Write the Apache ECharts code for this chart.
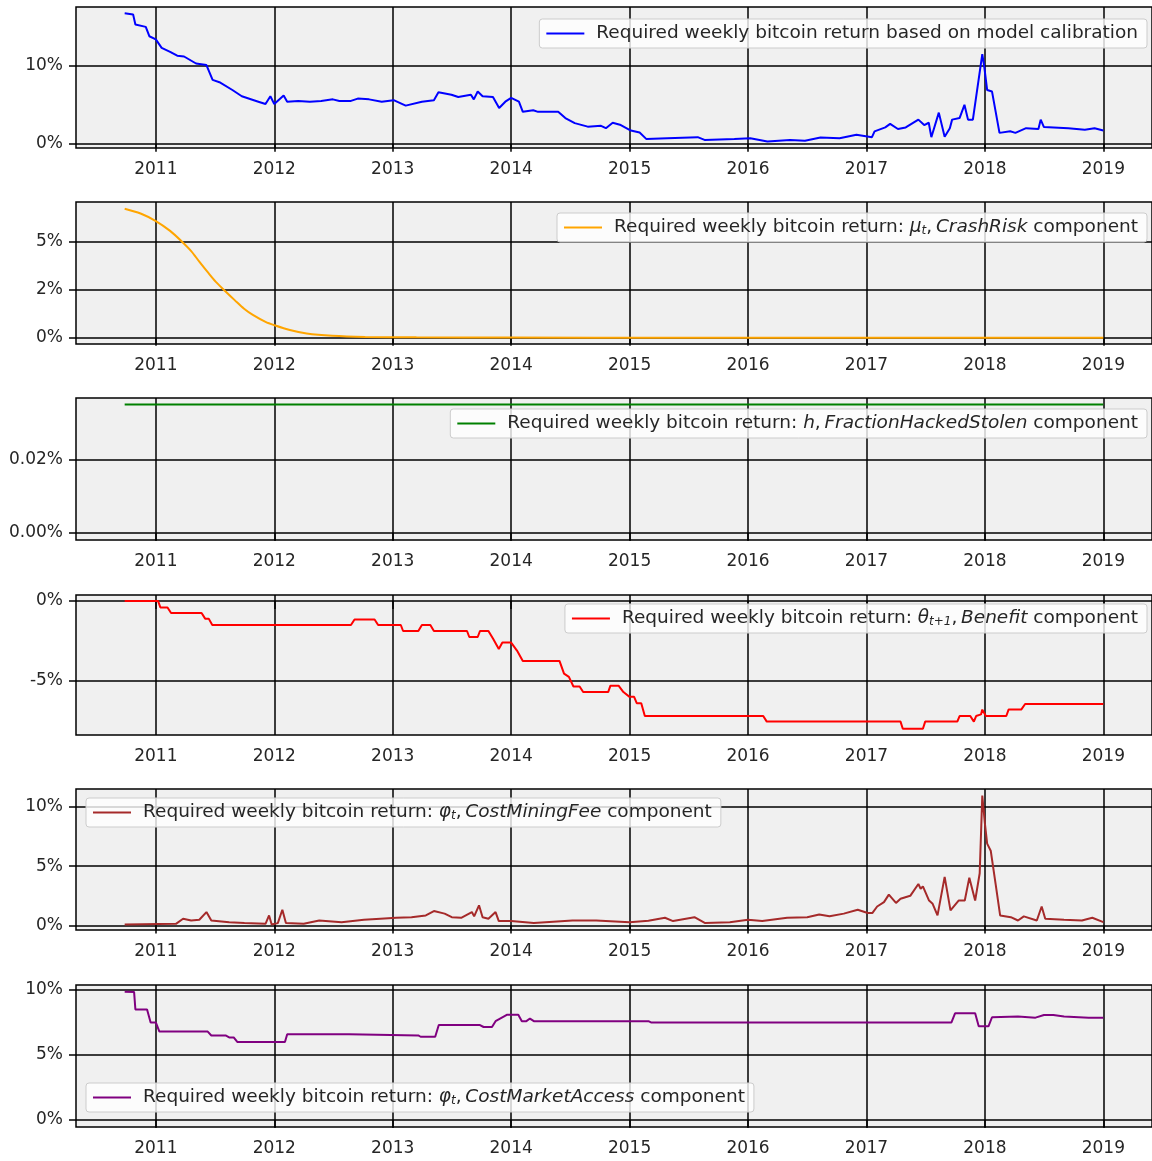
<!DOCTYPE html>
<html>
<head>
<meta charset="utf-8">
<title>Required weekly bitcoin return components</title>
<script src="https://cdn.jsdelivr.net/npm/echarts@6/dist/echarts.min.js"></script>
<style>
  html, body { margin: 0; padding: 0; background: #ffffff; }
  #chart { width: 1152px; height: 1161px; }
</style>
</head>
<body>
<div id="chart"></div>
<script>
// ---------- data (weekly required returns, in percent) ----------
const yearTicks = [2011, 2012, 2013, 2014, 2015, 2016, 2017, 2018, 2019];
const xRange = ['2010-04-30', '2019-05-31'];

const seriesNames = [
  'Required weekly bitcoin return based on model calibration',
  'Required weekly bitcoin return: μt, CrashRisk component',
  'Required weekly bitcoin return: h, FractionHackedStolen component',
  'Required weekly bitcoin return: θt+1, Benefit component',
  'Required weekly bitcoin return: φt, CostMiningFee component',
  'Required weekly bitcoin return: φt, CostMarketAccess component'
];

const legendLabels = [
  'Required weekly bitcoin return based on model calibration',
  'Required weekly bitcoin return: {i|μ}{sub|t},\u2009{i|CrashRisk} component',
  'Required weekly bitcoin return: {i|h},\u2009{i|FractionHackedStolen} component',
  'Required weekly bitcoin return: {i|θ}{sub|t+1},\u2009{i|Benefit} component',
  'Required weekly bitcoin return: {i|φ}{sub|t},\u2009{i|CostMiningFee} component',
  'Required weekly bitcoin return: {i|φ}{sub|t},\u2009{i|CostMarketAccess} component'
];

const totalReturn = [
  ['2010-09-27', 16.75], ['2010-10-23', 16.6], ['2010-10-30', 15.3], ['2010-12-01', 15.0],
  ['2010-12-12', 13.8], ['2011-01-01', 13.4], ['2011-01-19', 12.3], ['2011-02-14', 11.8],
  ['2011-03-08', 11.3], ['2011-03-29', 11.2], ['2011-05-05', 10.3], ['2011-06-06', 10.1],
  ['2011-06-25', 8.2], ['2011-07-16', 7.9], ['2011-08-25', 6.9], ['2011-09-23', 6.1],
  ['2011-11-13', 5.4], ['2011-12-05', 5.1], ['2011-12-20', 6.1], ['2012-01-01', 5.1],
  ['2012-01-30', 6.2], ['2012-02-10', 5.4], ['2012-03-15', 5.5], ['2012-04-20', 5.4],
  ['2012-05-25', 5.5], ['2012-06-30', 5.7], ['2012-07-20', 5.5], ['2012-08-25', 5.5],
  ['2012-09-15', 5.8], ['2012-10-20', 5.7], ['2012-11-28', 5.4], ['2013-01-04', 5.6],
  ['2013-02-10', 4.9], ['2013-04-01', 5.4], ['2013-05-08', 5.6], ['2013-05-22', 6.6],
  ['2013-07-01', 6.3], ['2013-07-22', 6.0], ['2013-08-30', 6.3], ['2013-09-08', 5.7],
  ['2013-09-20', 6.7], ['2013-10-05', 6.1], ['2013-11-06', 6.0], ['2013-11-25', 4.6],
  ['2013-12-14', 5.4], ['2014-01-01', 5.9], ['2014-01-25', 5.4], ['2014-02-06', 4.1],
  ['2014-03-10', 4.3], ['2014-03-25', 4.1], ['2014-05-26', 4.1], ['2014-06-17', 3.3],
  ['2014-07-16', 2.65], ['2014-08-25', 2.2], ['2014-10-05', 2.3], ['2014-10-20', 2.0],
  ['2014-11-10', 2.7], ['2014-12-05', 2.4], ['2015-01-05', 1.7], ['2015-02-01', 1.45],
  ['2015-02-22', 0.6], ['2015-04-27', 0.7], ['2015-07-30', 0.85], ['2015-08-20', 0.5],
  ['2015-11-20', 0.6], ['2016-01-08', 0.7], ['2016-03-01', 0.3], ['2016-05-10', 0.5],
  ['2016-06-25', 0.4], ['2016-08-12', 0.8], ['2016-10-10', 0.7], ['2016-12-01', 1.15],
  ['2017-01-18', 0.85], ['2017-01-26', 1.6], ['2017-02-28', 2.1], ['2017-03-15', 2.55],
  ['2017-04-08', 1.9], ['2017-05-02', 2.1], ['2017-06-10', 3.1], ['2017-06-28', 2.4],
  ['2017-07-12', 2.7], ['2017-07-20', 0.85], ['2017-08-12', 4.0], ['2017-08-30', 0.9],
  ['2017-09-15', 2.0], ['2017-09-22', 3.1], ['2017-10-15', 3.3], ['2017-10-30', 5.0],
  ['2017-11-10', 3.1], ['2017-11-25', 3.1], ['2017-12-24', 11.5], ['2017-12-30', 9.9],
  ['2018-01-08', 6.9], ['2018-01-23', 6.7], ['2018-02-15', 1.4], ['2018-03-20', 1.6],
  ['2018-04-05', 1.4], ['2018-05-08', 2.0], ['2018-06-15', 1.9], ['2018-06-22', 3.1],
  ['2018-07-02', 2.15], ['2018-09-15', 2.0], ['2018-11-05', 1.8], ['2018-12-05', 2.0],
  ['2019-01-01', 1.7]
];

const crashRisk = [
  ['2010-09-27', 6.70], ['2010-11-15', 6.45], ['2011-01-01', 6.06], ['2011-02-14', 5.55],
  ['2011-03-22', 5.0], ['2011-04-20', 4.5], ['2011-05-15', 3.95], ['2011-06-10', 3.4],
  ['2011-07-05', 2.9], ['2011-08-04', 2.4], ['2011-09-01', 1.95], ['2011-09-30', 1.5],
  ['2011-10-27', 1.18], ['2011-12-05', 0.82], ['2012-01-01', 0.65], ['2012-02-18', 0.40],
  ['2012-04-10', 0.22], ['2012-06-28', 0.10], ['2012-10-08', 0.04], ['2013-03-15', 0.015],
  ['2014-01-01', 0.003], ['2015-06-01', 0.0], ['2019-01-01', 0.0]
];

const hackedStolen = [
  ['2010-09-27', 0.0352], ['2012-01-01', 0.0352], ['2014-01-01', 0.0352],
  ['2016-01-01', 0.0352], ['2018-01-01', 0.0352], ['2019-01-01', 0.0352]
];

const benefit = [
  ['2010-09-27', 0], ['2011-01-08', 0], ['2011-01-15', -0.4], ['2011-02-06', -0.4],
  ['2011-02-17', -0.75], ['2011-05-22', -0.75], ['2011-06-02', -1.1], ['2011-06-13', -1.1],
  ['2011-06-24', -1.5], ['2012-08-25', -1.5], ['2012-09-05', -1.15], ['2012-11-06', -1.15],
  ['2012-11-17', -1.5], ['2013-01-26', -1.5], ['2013-02-02', -1.875], ['2013-03-21', -1.875],
  ['2013-04-01', -1.5], ['2013-04-27', -1.5], ['2013-05-08', -1.875], ['2013-08-18', -1.875],
  ['2013-08-25', -2.25], ['2013-09-20', -2.25], ['2013-09-27', -1.875], ['2013-10-23', -1.875],
  ['2013-11-06', -2.35], ['2013-11-24', -3.0], ['2013-12-05', -2.6], ['2014-01-01', -2.6],
  ['2014-01-19', -3.1], ['2014-02-06', -3.75], ['2014-05-30', -3.75], ['2014-06-13', -4.55],
  ['2014-06-28', -4.75], ['2014-07-12', -5.35], ['2014-07-31', -5.35], ['2014-08-11', -5.7],
  ['2014-10-27', -5.7], ['2014-11-03', -5.3], ['2014-11-28', -5.3], ['2014-12-13', -5.7],
  ['2015-01-01', -6.0], ['2015-01-15', -6.0], ['2015-01-23', -6.4], ['2015-02-06', -6.4],
  ['2015-02-17', -7.2], ['2016-02-17', -7.2], ['2016-02-28', -7.55], ['2017-04-16', -7.55],
  ['2017-04-23', -8.0], ['2017-06-24', -8.0], ['2017-07-01', -7.55], ['2017-10-08', -7.55],
  ['2017-10-15', -7.2], ['2017-11-17', -7.2], ['2017-11-28', -7.55], ['2017-12-05', -7.2],
  ['2017-12-20', -7.1], ['2017-12-24', -6.8], ['2018-01-04', -7.2], ['2018-03-08', -7.2],
  ['2018-03-15', -6.8], ['2018-04-23', -6.8], ['2018-05-05', -6.45], ['2019-01-01', -6.45]
];

const miningFee = [
  ['2010-09-27', 0.08], ['2011-03-04', 0.14], ['2011-03-26', 0.57], ['2011-04-20', 0.42],
  ['2011-05-15', 0.48], ['2011-06-06', 1.13], ['2011-06-21', 0.42], ['2011-08-15', 0.28],
  ['2011-10-01', 0.2], ['2011-12-05', 0.14], ['2011-12-16', 0.85], ['2011-12-24', 0.08],
  ['2012-01-12', 0.2], ['2012-01-26', 1.33], ['2012-02-06', 0.2], ['2012-04-01', 0.14],
  ['2012-05-19', 0.42], ['2012-07-27', 0.28], ['2012-10-04', 0.48], ['2012-11-24', 0.57],
  ['2013-01-12', 0.65], ['2013-02-28', 0.7], ['2013-04-13', 0.85], ['2013-05-08', 1.22],
  ['2013-06-10', 1.0], ['2013-07-02', 0.7], ['2013-07-31', 0.65], ['2013-09-02', 1.13],
  ['2013-09-09', 0.77], ['2013-09-24', 1.7], ['2013-10-05', 0.7], ['2013-10-23', 0.57],
  ['2013-11-14', 1.13], ['2013-11-24', 0.37], ['2014-01-01', 0.37], ['2014-03-12', 0.2],
  ['2014-07-09', 0.42], ['2014-09-20', 0.42], ['2015-01-01', 0.28], ['2015-02-28', 0.4],
  ['2015-04-20', 0.65], ['2015-05-15', 0.37], ['2015-07-20', 0.7], ['2015-08-22', 0.2],
  ['2015-11-06', 0.28], ['2016-01-01', 0.48], ['2016-02-14', 0.37], ['2016-05-01', 0.65],
  ['2016-07-02', 0.7], ['2016-08-08', 0.93], ['2016-09-09', 0.77], ['2016-10-23', 1.0],
  ['2016-12-05', 1.33], ['2017-01-05', 1.05], ['2017-01-19', 1.05], ['2017-02-03', 1.6],
  ['2017-02-24', 1.97], ['2017-03-11', 2.6], ['2017-04-02', 1.9], ['2017-04-16', 2.25],
  ['2017-05-16', 2.5], ['2017-06-10', 3.5], ['2017-06-17', 3.1], ['2017-06-24', 3.3],
  ['2017-07-13', 2.1], ['2017-07-24', 1.83], ['2017-08-08', 0.85], ['2017-08-30', 4.1],
  ['2017-09-17', 1.27], ['2017-10-12', 2.1], ['2017-10-31', 2.1], ['2017-11-14', 4.03],
  ['2017-12-02', 2.1], ['2017-12-16', 4.4], ['2017-12-24', 10.95], ['2018-01-01', 8.6],
  ['2018-01-08', 6.9], ['2018-01-19', 6.3], ['2018-02-03', 3.5], ['2018-02-17', 0.85],
  ['2018-03-22', 0.7], ['2018-04-13', 0.42], ['2018-05-01', 0.77], ['2018-06-10', 0.42],
  ['2018-06-25', 1.6], ['2018-07-06', 0.57], ['2018-09-02', 0.48], ['2018-10-27', 0.42],
  ['2018-11-28', 0.65], ['2019-01-01', 0.28]
];

const marketAccess = [
  ['2010-09-27', 9.87], ['2010-10-26', 9.85], ['2010-10-30', 8.5], ['2010-12-05', 8.5],
  ['2010-12-16', 7.5], ['2011-01-01', 7.5], ['2011-01-12', 6.8], ['2011-06-10', 6.8],
  ['2011-06-21', 6.5], ['2011-08-04', 6.5], ['2011-08-15', 6.35], ['2011-08-29', 6.35],
  ['2011-09-09', 6.0], ['2012-02-03', 6.0], ['2012-02-10', 6.6], ['2012-08-19', 6.6],
  ['2012-08-25', 6.5], ['2013-03-21', 6.5], ['2013-03-28', 6.4], ['2013-05-12', 6.4],
  ['2013-05-23', 7.3], ['2013-09-27', 7.3], ['2013-10-08', 7.15], ['2013-11-03', 7.15],
  ['2013-11-14', 7.6], ['2013-12-20', 8.1], ['2014-01-23', 8.1], ['2014-02-03', 7.6],
  ['2014-02-17', 7.6], ['2014-02-28', 7.8], ['2014-03-12', 7.6], ['2015-02-28', 7.6],
  ['2015-03-08', 7.5], ['2017-09-20', 7.5], ['2017-10-01', 8.2], ['2017-12-02', 8.2],
  ['2017-12-13', 7.2], ['2018-01-12', 7.2], ['2018-01-23', 7.9], ['2018-04-13', 7.95],
  ['2018-06-06', 7.87], ['2018-07-02', 8.07], ['2018-07-31', 8.07], ['2018-09-02', 7.95],
  ['2018-11-17', 7.87], ['2019-01-01', 7.87]
];

const seriesData = [totalReturn, crashRisk, hackedStolen, benefit, miningFee, marketAccess];
const seriesColors = ['#0000ff', '#ffa500', '#008000', '#ff0000', '#a52a2a', '#800080'];

// y tick values (percent), their printed labels, and grid-line spacing
const yTickValues = [
  [0, 10],
  [0, 2.5, 5],
  [0, 0.02],
  [-5, 0],
  [0, 5, 10],
  [0, 5, 10]
];
const yTickLabels = [
  ['0%', '10%'],
  ['0%', '2%', '5%'],
  ['0.00%', '0.02%'],
  ['-5%', '0%'],
  ['0%', '5%', '10%'],
  ['0%', '5%', '10%']
];
const yTickSteps = [10, 2.5, 0.02, 5, 5, 5];

// ---------- layout of the six stacked panels ----------
const panels = [
  { top: 7,   height: 141, yMin: -0.54, yMax: 17.55, legend: { right: 5, top: 19 } },
  { top: 202, height: 142, yMin: -0.33, yMax: 7.05,  legend: { right: 5, top: 213 } },
  { top: 398, height: 142, yMin: -0.0019, yMax: 0.0370, legend: { right: 5, top: 409 } },
  { top: 595, height: 140, yMin: -8.39, yMax: 0.38,  legend: { right: 5, top: 604 } },
  { top: 789, height: 141, yMin: -0.38, yMax: 11.5,  legend: { left: 86, top: 798 } },
  { top: 985, height: 142, yMin: -0.54, yMax: 10.38, legend: { left: 86, top: 1083 } }
];

const FONT = 'DejaVu Sans';
const TEXT = '#262626';
const FS = 17;      // tick labels
const LFS = 18.5;   // legend text

// calendar date -> fractional year, so the x axis can be a plain value axis
function decYear(s) {
  const p = s.split('-').map(Number);
  const start = Date.UTC(p[0], 0, 1);
  const end = Date.UTC(p[0] + 1, 0, 1);
  return p[0] + (Date.UTC(p[0], p[1] - 1, p[2]) - start) / (end - start);
}

const grids = [], xAxes = [], yAxes = [], series = [], legends = [];

panels.forEach((p, i) => {
  grids.push({
    left: 76, width: 1080, top: p.top, height: p.height,
    show: true, backgroundColor: '#f0f0f0',
    borderColor: '#000000', borderWidth: 1.5,
    containLabel: false
  });

  xAxes.push({
    type: 'value', gridIndex: i,
    min: decYear(xRange[0]), max: decYear(xRange[1]),
    interval: 1,
    axisLine: { show: false },
    axisTick: {
      show: true, inside: false, length: 8,
      lineStyle: { color: '#000000', width: 1.5 },
      customValues: yearTicks
    },
    axisLabel: {
      customValues: yearTicks,
      formatter: v => String(Math.round(v)),
      margin: 13, fontSize: FS, fontFamily: FONT, color: TEXT
    },
    splitLine: { show: true, lineStyle: { color: '#000000', width: 1.5 } }
  });

  const ticks = yTickValues[i];
  const labels = yTickLabels[i];
  yAxes.push({
    type: 'value', gridIndex: i,
    min: p.yMin, max: p.yMax,
    interval: yTickSteps[i],
    axisLine: { show: false },
    axisTick: {
      show: true, inside: false, length: 7,
      lineStyle: { color: '#000000', width: 1.5 },
      customValues: ticks
    },
    axisLabel: {
      customValues: ticks,
      formatter: v => {
        let best = 0;
        ticks.forEach((t, k) => { if (Math.abs(t - v) < Math.abs(ticks[best] - v)) best = k; });
        return labels[best];
      },
      margin: 13, fontSize: FS, fontFamily: FONT, color: TEXT
    },
    splitLine: { show: true, lineStyle: { color: '#000000', width: 1.5 } }
  });

  series.push({
    type: 'line', name: seriesNames[i],
    xAxisIndex: i, yAxisIndex: i,
    data: seriesData[i].map(d => [decYear(d[0]), d[1]]),
    showSymbol: false, symbol: 'none',
    smooth: i === 1 ? 0.3 : false,
    lineStyle: { color: seriesColors[i], width: 2 },
    itemStyle: { color: seriesColors[i] },
    z: 3
  });

  legends.push(Object.assign({
    data: [seriesNames[i]],
    orient: 'horizontal',
    icon: 'rect', itemWidth: 38, itemHeight: 2,
    padding: [5, 9, 5, 7],
    backgroundColor: 'rgba(255,255,255,0.8)',
    borderColor: '#cccccc', borderWidth: 1, borderRadius: 3,
    selectedMode: false,
    formatter: () => legendLabels[i],
    textStyle: {
      fontFamily: FONT, fontSize: LFS, color: TEXT, padding: [0, 0, 0, 7],
      rich: {
        i: { fontFamily: FONT, fontSize: LFS, fontStyle: 'italic', color: TEXT },
        sub: { fontFamily: FONT, fontSize: 12, fontStyle: 'italic', color: TEXT, verticalAlign: 'bottom' }
      }
    }
  }, p.legend));
});

const chart = echarts.init(document.getElementById('chart'), null, { renderer: 'canvas' });
chart.setOption({
  animation: false,
  backgroundColor: '#ffffff',
  grid: grids,
  xAxis: xAxes,
  yAxis: yAxes,
  legend: legends,
  series: series
});
</script>
</body>
</html>
